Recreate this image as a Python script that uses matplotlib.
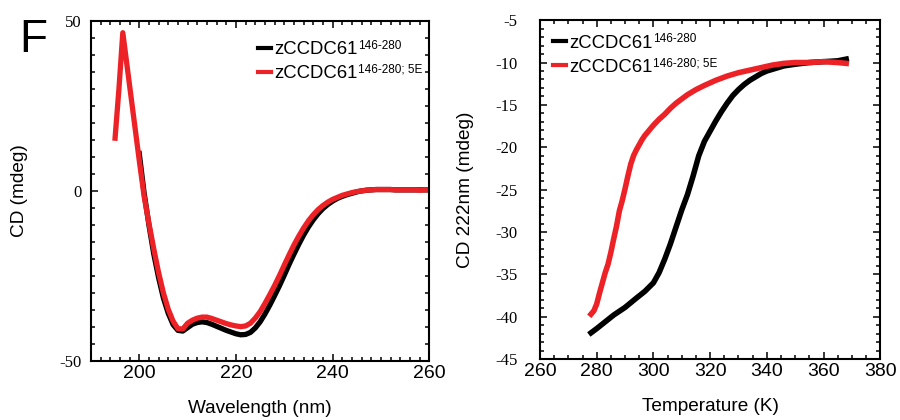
import matplotlib
matplotlib.use('Agg')
import matplotlib.pyplot as plt
import numpy as np

plt.rcParams['font.family'] = ['Liberation Sans', 'DejaVu Sans']

# --- panel F left: CD spectra ---
wl_red = [195.0, 195.8, 196.6] + list(range(198, 261))
cd_red = [15.5, 30, 46.5,
          31, 20, 9, -1.5, -9.5, -17, -24, -30, -34.8, -38.3,
          -40.5, -40.6, -38.9, -38.0, -37.4, -37.1, -37.1, -37.5, -38.0, -38.5,
          -39.0, -39.4, -39.7, -39.9, -39.7, -38.9, -37.4, -35.5, -33.1, -30.5,
          -27.8, -24.9, -21.8, -18.8, -15.9, -13.3, -10.9, -8.8, -7.0, -5.5,
          -4.3, -3.3, -2.5, -1.9, -1.3, -0.9, -0.5, -0.2, 0.0, 0.2,
          0.3, 0.4, 0.4, 0.4, 0.4, 0.3, 0.3, 0.3, 0.3, 0.3, 0.2, 0.3, 0.3]

wl_black = list(range(200, 261))
cd_black = [11, -0.5, -10, -18.5, -25.5, -31.5, -36, -39.3, -41, -41.2,
            -40.2, -39.2, -38.7, -38.5, -38.7, -39.2, -39.8, -40.4, -41, -41.5,
            -42, -42.3, -42.2, -41.6, -40.3, -38.5, -36.2, -33.6, -30.8, -27.9,
            -24.8, -21.6, -18.6, -15.7, -13.0, -10.6, -8.5, -6.7, -5.2, -4.0,
            -3.0, -2.2, -1.6, -1.1, -0.7, -0.3, 0.0, 0.2, 0.3, 0.4,
            0.4, 0.4, 0.4, 0.3, 0.3, 0.3, 0.3, 0.3, 0.3, 0.3, 0.3]

# --- panel F right: thermal melt at 222 nm ---
t_red = [278, 279, 280, 281, 282, 283, 284, 285, 286, 287, 288, 289, 290,
         291, 292, 293, 294, 295, 296, 297, 298, 300, 302, 304, 306, 308,
         310, 312, 315, 318, 322, 326, 330, 334, 338, 342, 346, 350, 355,
         360, 365, 368]
melt_red = [-39.7, -39.3, -38.5, -37.2, -36.0, -34.8, -33.8, -32.4, -30.8,
            -29.3, -27.5, -26.3, -24.9, -23.4, -22.0, -21.0, -20.3, -19.7,
            -19.1, -18.6, -18.2, -17.4, -16.7, -16.1, -15.4, -14.8, -14.3,
            -13.8, -13.2, -12.7, -12.1, -11.6, -11.2, -10.9, -10.6, -10.3,
            -10.1, -10.0, -10.0, -9.9, -10.0, -10.1]

t_black = [278, 280, 283, 286, 290, 294, 297, 300, 302, 304, 306, 308, 310,
           312, 314, 316, 318, 320, 322, 324, 326, 328, 330, 332, 334, 336,
           338, 340, 343, 346, 350, 355, 360, 365, 368]
melt_black = [-41.9, -41.4, -40.6, -39.8, -38.9, -37.8, -37.0, -36.0, -34.8,
              -33.2, -31.4, -29.4, -27.4, -25.6, -23.4, -21.0, -19.3, -18.1,
              -16.9, -15.8, -14.8, -13.9, -13.2, -12.6, -12.1, -11.7, -11.3,
              -11.0, -10.7, -10.4, -10.2, -10.0, -9.9, -9.8, -9.6]

labels = ['zCCDC61', 'zCCDC61']
sups = ['146-280', '146-280; 5E']
RED = '#ec2227'

fig = plt.figure(figsize=(9, 4.2), dpi=100)
ax1 = fig.add_axes([0.101, 0.1405, 0.376, 0.81])
ax2 = fig.add_axes([0.600, 0.145, 0.378, 0.807])

ax1.plot(wl_black, cd_black, color='black', lw=3.8, label=labels[0])
ax1.plot(wl_red, cd_red, color=RED, lw=3.8, label=labels[1])
ax2.plot(t_black, melt_black, color='black', lw=4, label=labels[0])
ax2.plot(t_red, melt_red, color=RED, lw=4, label=labels[1])

ax1.set_xlim(190, 260)
ax1.set_ylim(-50, 50)
ax1.set_xticks([200, 220, 240, 260])
ax1.set_xticks(np.arange(190, 261, 2), minor=True)
ax1.set_yticks([-50, 0, 50])
ax1.set_yticklabels(['-50', '0', '50'], fontfamily='Liberation Serif', fontsize=12)
ax1.set_yticks(np.arange(-50, 51, 5), minor=True)

ax2.set_xlim(260, 380)
ax2.set_ylim(-45, -5)
ax2.set_xticks(np.arange(260, 381, 20))
ax2.set_xticks(np.arange(260, 381, 5), minor=True)
ax2.set_yticks(np.arange(-45, -4, 5))
ax2.set_yticklabels([str(v) for v in range(-45, -4, 5)],
                    fontfamily='Liberation Serif', fontsize=12)
ax2.set_yticks(np.arange(-45, -4, 1), minor=True)

for ax in (ax1, ax2):
    for s in ax.spines.values():
        s.set_linewidth(1.5)
    ax.tick_params(which='both', direction='in', top=True, right=True, width=1.1)
    ax.tick_params(which='major', length=5)
    ax.tick_params(which='minor', length=3)
    ax.tick_params(axis='x', labelsize=14, pad=3)
ax1.tick_params(axis='y', pad=7)
ax2.tick_params(axis='y', pad=16)

ax1.set_xlabel('Wavelength (nm)', fontsize=13.7)
ax1.set_ylabel('CD (mdeg)', fontsize=13.7)
ax2.set_xlabel('Temperature (K)', fontsize=13.7)
ax2.set_ylabel('CD 222nm (mdeg)', fontsize=13.7)
ax1.xaxis.set_label_coords(0.5, -0.115)
ax2.xaxis.set_label_coords(0.5, -0.115)
ax1.yaxis.set_label_coords(-0.186, 0.5)
ax2.yaxis.set_label_coords(-0.194, 0.5)

legs = []
legs.append(ax1.legend(loc='upper left', frameon=False, fontsize=13.3,
                       handlelength=0.7, handletextpad=0.2, labelspacing=0.38,
                       borderpad=0, borderaxespad=0, bbox_to_anchor=(0.494, 0.94)))
legs.append(ax2.legend(loc='upper left', frameon=False, fontsize=13.3,
                       handlelength=0.7, handletextpad=0.2, labelspacing=0.38,
                       borderpad=0, borderaxespad=0, bbox_to_anchor=(0.038, 0.957)))
for ax, leg in zip((ax1, ax2), legs):
    for h in leg.get_lines():
        h.set_linewidth(3)
    for txt, sup in zip(leg.get_texts(), sups):
        ax.annotate(sup, xy=(1, 1), xycoords=txt, xytext=(0, 1.2),
                    textcoords='offset points', va='top', ha='left',
                    fontsize=8.5, zorder=10)

fig.text(0.0215, 0.876, 'F', fontsize=33, va='baseline')

fig.savefig('out.png', dpi=100)
